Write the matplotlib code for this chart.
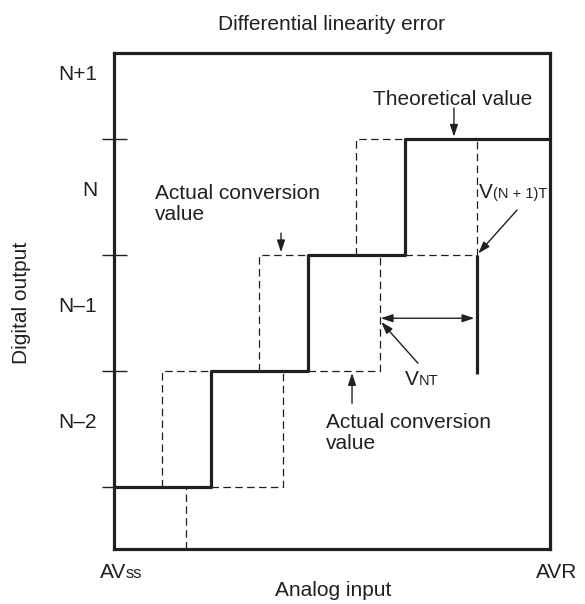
import matplotlib
matplotlib.use("Agg")
import matplotlib.pyplot as plt

plt.rcParams['font.family'] = ['Liberation Sans', 'DejaVu Sans']

INK = '#231f20'

# ---- data (x in LSB steps, y in output codes, level 0 = N-2 ... level 3 = N+1 boundary) ----
levels = [0, 1, 2, 3]
level_labels = ['N\u20132', 'N\u20131', 'N', 'N+1']
theo_x = [0.0, 1.0, 2.0, 3.0, 4.5]          # theoretical staircase break points
theo_y = [0, 1, 2, 3, 3]
act_low = [0.5, 1.5, 2.5]                   # earliest actual transitions into levels 1..3
act_high = [0.75, 1.75, 2.75, 3.75]         # latest actual transitions into levels 0..3
theo_trans = [0.0, 1.0, 2.0, 3.0]           # theoretical transition into levels 0..3
vnt1_x = 3.75                               # V(N+1)T marker
vnt1_bottom = 0.98
x_labels = ['AV', 'AVR']

xlim = (0.0, 4.5)
ylim = (-0.526, 3.741)

fig = plt.figure(figsize=(5.85, 6.04), dpi=100)
ax = fig.add_axes([113.5/585, 1-548.5/604, (550-113.5)/585, (548.5-53)/604])
ax.set_xlim(*xlim)
ax.set_ylim(*ylim)
for s in ax.spines.values():
    s.set_linewidth(2.3)
    s.set_color(INK)

ax.set_xticks([])
ax.set_yticks(levels)
ax.set_yticklabels([])
ax.tick_params(axis='y', direction='inout', length=18, width=1.0, color=INK)

dash = dict(color=INK, lw=0.9, ls=(0, (6, 3.5)))

# actual conversion (dashed)
for j, xl in enumerate(act_low, start=1):
    ax.plot([xl, xl, theo_trans[j]], [j - 1, j, j], **dash)
for j, xh in enumerate(act_high):
    if j == 0:
        ax.plot([xh, xh], [ylim[0], 0], **dash)
    else:
        ax.plot([theo_trans[j], xh, xh], [j - 1, j - 1, j], **dash)

# theoretical staircase (solid)
ax.plot(theo_x, theo_y, drawstyle='steps-post', color=INK, lw=2.3, solid_capstyle='butt')
ax.plot([vnt1_x, vnt1_x], [levels[2], vnt1_bottom], color=INK, lw=2.3, solid_capstyle='butt')

# level labels
for lv, lab in zip(levels, level_labels):
    ax.text(-0.17, lv + 0.51, lab, ha='right', va='baseline', fontsize=15, color=INK, clip_on=False)

fs = 15
arr = dict(arrowstyle='-|>,head_length=0.6,head_width=0.2', color=INK, lw=1.0,
           mutation_scale=12, shrinkA=0, shrinkB=0)

# Theoretical value
ax.text(2.675, 3.293, 'Theoretical value', fontsize=fs, color=INK, va='baseline')
ax.annotate('', xy=(3.51, 3.02), xytext=(3.51, 3.267), arrowprops=arr)

# Actual conversion value (upper)
ax.text(0.428, 2.483, 'Actual conversion', fontsize=fs, color=INK, va='baseline')
ax.text(0.428, 2.302, 'value', fontsize=fs, color=INK, va='baseline')
ax.annotate('', xy=(1.727, 2.025), xytext=(1.727, 2.19), arrowprops=arr)

# Actual conversion value (lower)
ax.text(2.191, 0.509, 'Actual conversion', fontsize=fs, color=INK, va='baseline')
ax.text(2.191, 0.328, 'value', fontsize=fs, color=INK, va='baseline')
ax.annotate('', xy=(2.459, 0.985), xytext=(2.459, 0.724), arrowprops=arr)

# V(N+1)T
ax.text(3.768, 2.491, 'V', fontsize=fs, color=INK, va='baseline')
ax.text(3.915, 2.491, '(N + 1)T', fontsize=10.5, color=INK, va='baseline', clip_on=False)
ax.annotate('', xy=(act_high[3] + 0.01, levels[2] + 0.015), xytext=(4.16, 2.388), arrowprops=arr)

# VNT double arrow and label
ax.annotate('', xy=(act_high[2] + 0.005, 1.457), xytext=(vnt1_x - 0.03, 1.457),
            arrowprops=dict(arrowstyle='<|-|>,head_length=0.6,head_width=0.2', color=INK, lw=1.0,
                            mutation_scale=12, shrinkA=0, shrinkB=0))
ax.text(3.005, 0.879, 'V', fontsize=fs, color=INK, va='baseline')
ax.text(3.15, 0.879, 'NT', fontsize=10.5, color=INK, va='baseline')
ax.annotate('', xy=(act_high[2] + 0.01, 1.425), xytext=(3.139, 1.069), arrowprops=arr)

# x end labels
ax.text(-0.139, -0.776, x_labels[0], fontsize=fs, color=INK, va='baseline', clip_on=False)
ax.text(0.12, -0.776, 'ss', fontsize=12, color=INK, va='baseline', clip_on=False)
ax.text(4.567, -0.776, x_labels[1], fontsize=fs, color=INK, va='baseline', ha='center', clip_on=False)

# titles
fig.text(331/585, 1-30/604, 'Differential linearity error', fontsize=fs, color=INK, ha='center', va='baseline')
fig.text(333.5/585, 1-596/604, 'Analog input', fontsize=fs, color=INK, ha='center', va='baseline')
fig.text(22/585, 1-303/604, 'Digital output', fontsize=fs, color=INK, ha='center', va='center', rotation=90)

fig.savefig('out.png', dpi=100)
